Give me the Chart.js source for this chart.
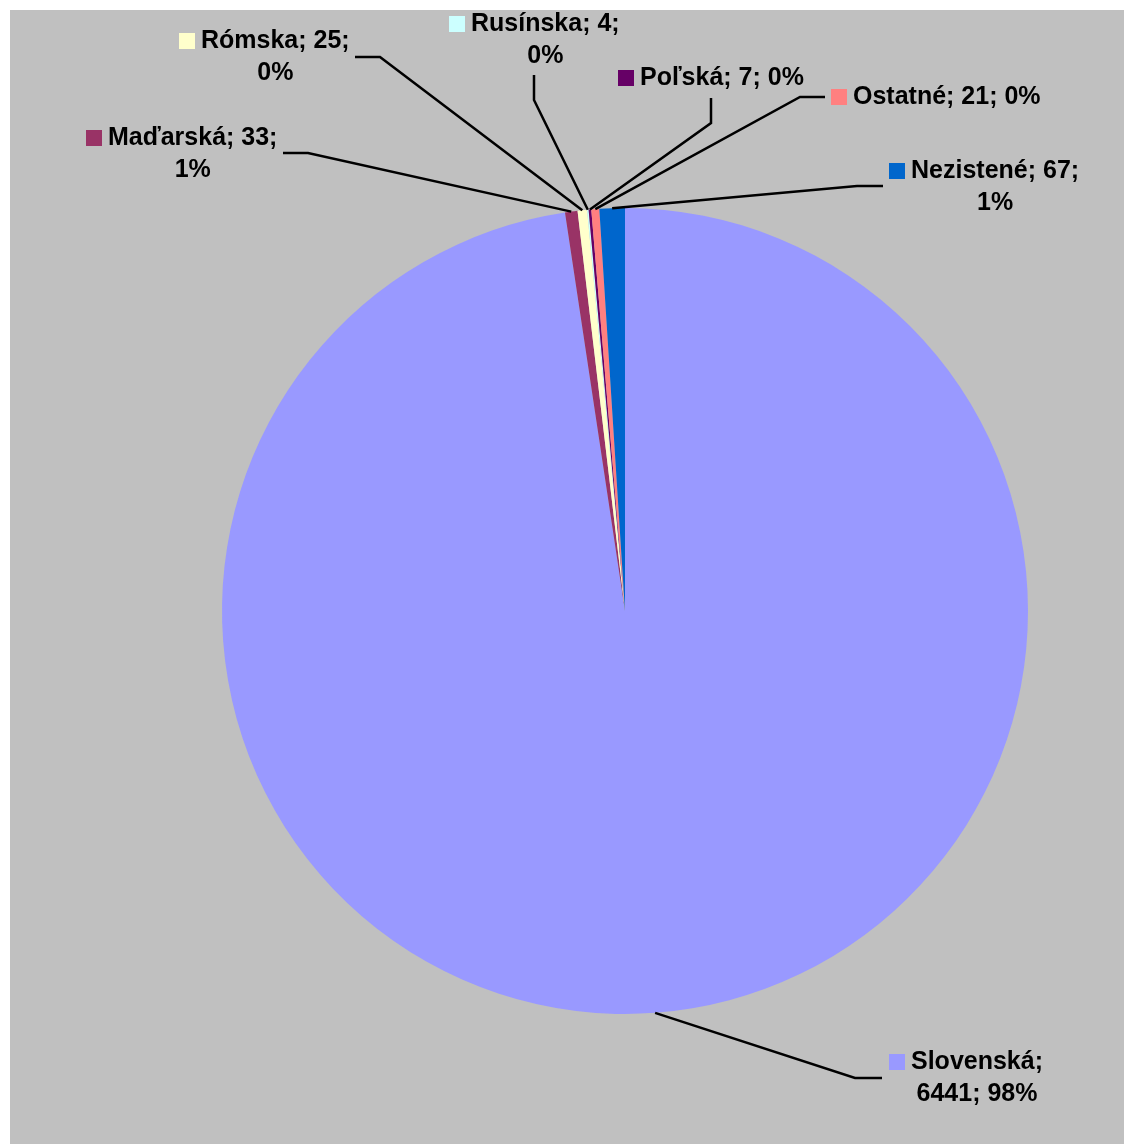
<!DOCTYPE html>
<html>
<head>
<meta charset="utf-8">
<script src="https://cdn.jsdelivr.net/npm/chart.js@4/dist/chart.umd.min.js"></script>
<style>
  body { margin: 0; background: #ffffff; }
  #wrap { width: 1124px; height: 1144px; position: relative; }
</style>
</head>
<body>
<div id="wrap"><canvas id="pieChart" width="1124" height="1144"></canvas></div>
<script>
// údaje - národnosť
var categories = ["Slovenská", "Maďarská", "Rómska", "Rusínska", "Poľská", "Ostatné", "Nezistené"];
var values = [6441, 33, 25, 4, 7, 21, 67];
var colors = ["#9999FF", "#993366", "#FFFFCC", "#CCFFFF", "#660066", "#FF8080", "#0066CC"];

// umiestnenie popisov (x znacky, y prveho riadku, kolko casti v 1. riadku, zlom ciary, koniec ciary)
var labelLayout = [
  { x: 889, y: 1062, split: 1, elbow: [855, 1078], end: [882, 1078] },
  { x: 86, y: 138, split: 2, elbow: [308, 153], end: [283, 153] },
  { x: 179, y: 41, split: 2, elbow: [380, 57], end: [355, 57] },
  { x: 449, y: 24, split: 2, elbow: [534, 100], end: [534, 75] },
  { x: 618, y: 78, split: 3, elbow: [711, 123], end: [711, 98] },
  { x: 831, y: 97, split: 3, elbow: [800, 97], end: [825, 97] },
  { x: 889, y: 171, split: 2, elbow: [857, 186], end: [883, 186] }
];

var total = values.reduce(function(a, b) { return a + b; }, 0);

var bgPlugin = {
  id: 'bgPlugin',
  beforeDraw: function(chart) {
    var ctx = chart.ctx;
    ctx.save();
    ctx.fillStyle = '#C0C0C0';
    ctx.fillRect(10, 10, chart.width - 10, chart.height - 10);
    ctx.restore();
  }
};

var labelPlugin = {
  id: 'labelPlugin',
  afterDraw: function(chart) {
    var ctx = chart.ctx;
    var arcs = chart.getDatasetMeta(0).data;
    ctx.save();
    ctx.font = 'bold 25px "Liberation Sans", Arial, sans-serif';
    ctx.textBaseline = 'middle';
    for (var i = 0; i < arcs.length; i++) {
      var p = arcs[i].getProps(['x', 'y', 'startAngle', 'endAngle', 'outerRadius'], true);
      var mid = (p.startAngle + p.endAngle) / 2;
      var sx = p.x + Math.cos(mid) * p.outerRadius;
      var sy = p.y + Math.sin(mid) * p.outerRadius;
      var lay = labelLayout[i];

      // vodiaca ciara
      ctx.strokeStyle = '#000000';
      ctx.lineWidth = 2.5;
      ctx.beginPath();
      ctx.moveTo(sx, sy);
      ctx.lineTo(lay.elbow[0], lay.elbow[1]);
      ctx.lineTo(lay.end[0], lay.end[1]);
      ctx.stroke();

      // text
      var pct = Math.round(values[i] / total * 100);
      var parts = [categories[i], String(values[i]), pct + '%'];
      var line1 = parts.slice(0, lay.split).join('; ') + (lay.split < 3 ? ';' : '');
      var line2 = parts.slice(lay.split).join('; ');

      ctx.fillStyle = colors[i];
      ctx.fillRect(lay.x, lay.y - 8, 16, 16);
      ctx.fillStyle = '#000000';
      ctx.textAlign = 'left';
      var tx = lay.x + 22;
      ctx.fillText(line1, tx, lay.y);
      if (line2) {
        var w = ctx.measureText(line1).width;
        ctx.textAlign = 'center';
        ctx.fillText(line2, tx + w / 2, lay.y + 32);
      }
    }
    ctx.restore();
  }
};

new Chart(document.getElementById('pieChart'), {
  type: 'pie',
  data: {
    labels: categories,
    datasets: [{
      data: values,
      backgroundColor: colors,
      borderWidth: 0,
      hoverOffset: 0
    }]
  },
  options: {
    responsive: false,
    animation: false,
    layout: { padding: { left: 222, right: 96, top: 208, bottom: 130 } },
    plugins: {
      legend: { display: false },
      tooltip: { enabled: false }
    }
  },
  plugins: [bgPlugin, labelPlugin]
});
</script>
</body>
</html>
